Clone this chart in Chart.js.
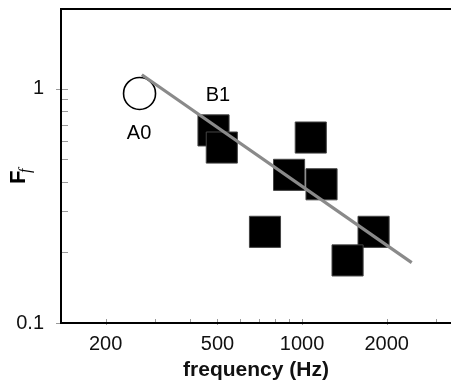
<!DOCTYPE html>
<html><head><meta charset="utf-8">
<script src="https://cdn.jsdelivr.net/npm/chart.js@4/dist/chart.umd.min.js"></script>
<style>html,body{margin:0;padding:0;background:#fff;overflow:hidden}</style>
</head><body>
<canvas id="c" width="451" height="386" style="display:block;width:451px;height:386px"></canvas>
<script>
// ---- data ----
const squareFreq = [484, 518, 1074, 899, 1173, 738, 1797, 1452];
const squareFf   = [0.664, 0.561, 0.619, 0.429, 0.391, 0.245, 0.245, 0.185];
const circleFreq = [264];
const circleFf   = [0.955];
const fitFreq = [269, 2456];
const fitFf   = [1.147, 0.181];
const xTickValues = [200, 300, 400, 500, 600, 700, 800, 900, 1000, 2000, 3000];
const xTickLabels = [200, 500, 1000, 2000];
const yTickValues = [0.1, 0.2, 0.3, 0.4, 0.5, 0.6, 0.7, 0.8, 0.9, 1];
const yTickLabels = [0.1, 1];
const annotations = [
  {text: 'A0', freq: 263, ff: 0.646},
  {text: 'B1', freq: 502, ff: 0.934}
];

const FONT = "'Liberation Sans', Arial, Helvetica, sans-serif";

const boxPlugin = {
  id: 'box',
  beforeDatasetsDraw(chart) {
    const {ctx, chartArea: a, scales} = chart;
    const xs = scales.x, ys = scales.y;
    ctx.save();
    ctx.strokeStyle = '#9a9a9a';
    ctx.lineWidth = 1;
    ctx.beginPath();
    xTickValues.forEach(v => {
      const px = Math.round(xs.getPixelForValue(v)) + 0.5;
      const major = xTickLabels.includes(v);
      ctx.moveTo(px, a.bottom - 4);
      ctx.lineTo(px, a.bottom + (major ? 2 : 0));
    });
    yTickValues.forEach(v => {
      const py = Math.round(ys.getPixelForValue(v)) + 0.5;
      const major = yTickLabels.includes(v);
      ctx.moveTo(a.left + 7, py);
      ctx.lineTo(a.left - (major ? 5 : 0), py);
    });
    ctx.stroke();
    ctx.strokeStyle = '#000';
    ctx.lineWidth = 2;
    ctx.beginPath();
    ctx.moveTo(a.right + 2, a.top);
    ctx.lineTo(a.left, a.top);
    ctx.lineTo(a.left, a.bottom);
    ctx.lineTo(a.right + 2, a.bottom);
    ctx.stroke();
    ctx.restore();
  },
  afterDatasetsDraw(chart) {
    const {ctx, scales} = chart;
    ctx.save();
    ctx.fillStyle = '#000';
    ctx.font = '20px ' + FONT;
    ctx.textAlign = 'center';
    ctx.textBaseline = 'middle';
    annotations.forEach(an => {
      ctx.fillText(an.text, scales.x.getPixelForValue(an.freq), scales.y.getPixelForValue(an.ff));
    });
    ctx.restore();
  },
  afterDraw(chart) {
    const {ctx} = chart;
    ctx.save();
    ctx.translate(25, 184);
    ctx.rotate(-Math.PI / 2);
    ctx.fillStyle = '#000';
    ctx.textBaseline = 'alphabetic';
    ctx.textAlign = 'left';
    ctx.font = 'bold 22px ' + FONT;
    ctx.fillText('F', 0, 0);
    ctx.font = 'italic 16px "Liberation Serif", "Times New Roman", serif';
    ctx.fillText('f', 11, 5);
    ctx.restore();
  }
};

new Chart(document.getElementById('c'), {
  type: 'scatter',
  data: {
    datasets: [
      {
        type: 'line',
        data: fitFreq.map((x, i) => ({x, y: fitFf[i]})),
        borderColor: '#8a8a8a',
        borderWidth: 3.2,
        pointRadius: 0,
        fill: false,
        showLine: true
      },
      {
        data: circleFreq.map((x, i) => ({x, y: circleFf[i]})),
        pointStyle: 'circle',
        pointRadius: 16,
        backgroundColor: 'rgba(255,255,255,0)',
        borderColor: '#000',
        borderWidth: 1.6
      },
      {
        data: squareFreq.map((x, i) => ({x, y: squareFf[i]})),
        pointStyle: 'rect',
        pointRadius: 22,
        backgroundColor: '#000',
        borderColor: '#444',
        borderWidth: 1
      }
    ]
  },
  options: {
    responsive: false,
    devicePixelRatio: 1,
    animation: false,
    layout: {autoPadding: false, padding: {top: 9, left: 0, right: 0, bottom: 0}},
    plugins: {legend: {display: false}, tooltip: {enabled: false}},
    scales: {
      x: {
        type: 'logarithmic',
        min: 138.7,
        max: 3389,
        grid: {display: false, drawTicks: false},
        border: {display: false},
        afterBuildTicks(s) { s.ticks = xTickValues.map(v => ({value: v})); },
        afterFit(s) { s.height = 63; s.paddingLeft = 0; s.paddingRight = 0; },
        ticks: {
          autoSkip: false, maxRotation: 0, padding: 9,
          color: '#111',
          font: {family: FONT, size: 20},
          callback: (v) => xTickLabels.includes(v) ? String(v) : ''
        },
        title: {
          display: true, text: 'frequency (Hz)', color: '#111',
          font: {family: FONT, size: 21, weight: 'bold'},
          padding: {top: 0, bottom: 3}
        }
      },
      y: {
        type: 'logarithmic',
        min: 0.1,
        max: 2.19,
        grid: {display: false, drawTicks: false},
        border: {display: false},
        afterBuildTicks(s) { s.ticks = yTickValues.map(v => ({value: v})); },
        afterFit(s) { s.width = 61; s.paddingTop = 0; s.paddingBottom = 0; },
        ticks: {
          autoSkip: false, padding: 17,
          color: '#111',
          font: {family: FONT, size: 20},
          callback: (v) => yTickLabels.includes(v) ? String(v) : ''
        }
      }
    }
  },
  plugins: [boxPlugin]
});
</script>
</body></html>
